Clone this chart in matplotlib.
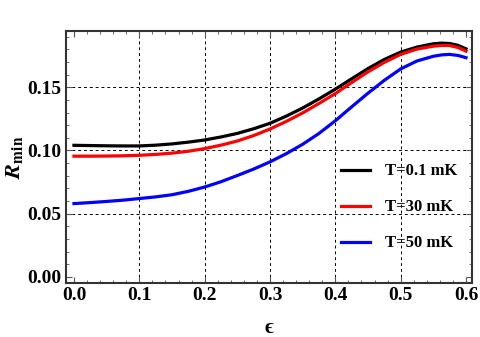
import matplotlib
matplotlib.use('Agg')
import matplotlib.pyplot as plt
from matplotlib.ticker import MultipleLocator

eps = [0.0, 0.025, 0.05, 0.075, 0.1, 0.125, 0.15, 0.175, 0.2, 0.225, 0.25, 0.275, 0.3,
       0.325, 0.35, 0.375, 0.4, 0.425, 0.45, 0.475, 0.5, 0.525, 0.55, 0.5625, 0.575,
       0.5875, 0.6]
r_01 = [0.1041, 0.1039, 0.1037, 0.1036, 0.1036, 0.1042, 0.1052, 0.1066, 0.1083, 0.1107,
        0.1135, 0.1172, 0.1215, 0.1272, 0.1336, 0.1408, 0.1485, 0.1567, 0.1648, 0.1720,
        0.1778, 0.1818, 0.1844, 0.1849, 0.1846, 0.1832, 0.1804]
r_30 = [0.0955, 0.0955, 0.0956, 0.0958, 0.0962, 0.0969, 0.0979, 0.0994, 0.1015, 0.1042,
        0.1075, 0.1118, 0.1170, 0.1230, 0.1297, 0.1372, 0.1450, 0.1537, 0.1622, 0.1697,
        0.1760, 0.1802, 0.1825, 0.1831, 0.1830, 0.1815, 0.1786]
r_50 = [0.0580, 0.0588, 0.0597, 0.0607, 0.0620, 0.0633, 0.0650, 0.0677, 0.0711, 0.0753,
        0.0802, 0.0853, 0.0910, 0.0975, 0.1049, 0.1135, 0.1235, 0.1345, 0.1453, 0.1555,
        0.1645, 0.1708, 0.1745, 0.1756, 0.1760, 0.1752, 0.1734]
labels = ['T=0.1 mK', 'T=30 mK', 'T=50 mK']
colors = ['black', 'red', 'blue']
xticks = [0.0, 0.1, 0.2, 0.3, 0.4, 0.5, 0.6]
yticks = [0.0, 0.05, 0.10, 0.15]

plt.rcParams['font.family'] = ['Liberation Serif', 'DejaVu Serif']
plt.rcParams['mathtext.fontset'] = 'stix'

fig = plt.figure(figsize=(4.8, 3.37), dpi=100)
ax = fig.add_axes([66 / 480, 1 - 283 / 337, 406 / 480, 252 / 337])

for ys, lab, col in zip([r_01, r_30, r_50], labels, colors):
    ax.plot(eps, ys, color=col, lw=2.3, label=lab, solid_joinstyle='round')

ax.set_xlim(-0.0122, 0.6092)
ax.set_ylim(-0.0048, 0.1945)
ax.set_xticks(xticks)
ax.set_yticks(yticks)
ax.xaxis.set_minor_locator(MultipleLocator(0.02))
ax.yaxis.set_minor_locator(MultipleLocator(0.01))
ax.set_xticklabels(['%.1f' % t for t in xticks], fontsize=14, fontweight='bold')
ax.set_yticklabels(['%.2f' % t for t in yticks], fontsize=14, fontweight='bold')
ax.tick_params(which='both', direction='in', top=True, right=True, color='#555555')
ax.tick_params(which='major', length=4, width=0.8, pad=3)
ax.tick_params(which='minor', length=2, width=0.6)

# dashed grid, only at the inner ticks
for t in xticks[1:-1]:
    ax.axvline(t, color='black', linestyle=(0, (3, 3)), lw=0.7, zorder=0)
for t in yticks[1:]:
    ax.axhline(t, color='black', linestyle=(0, (3, 3)), lw=0.7, zorder=0)

for s in ax.spines.values():
    s.set_linewidth(1.5)
    s.set_color('#333333')

ax.set_xlabel('\u03f5', fontsize=15, fontweight='bold', labelpad=10)
ax.set_ylabel(r'$\boldsymbol{R}_{\mathbf{min}}$', fontsize=16)
ax.yaxis.set_label_coords(-0.102, 0.5)

leg = ax.legend(loc='center left', bbox_to_anchor=(0.64, 0.3), frameon=False,
                handlelength=1.75, handletextpad=0.9, labelspacing=1.2,
                prop={'family': 'Liberation Serif', 'weight': 'bold', 'size': 12})

fig.savefig('out.png', dpi=100)
